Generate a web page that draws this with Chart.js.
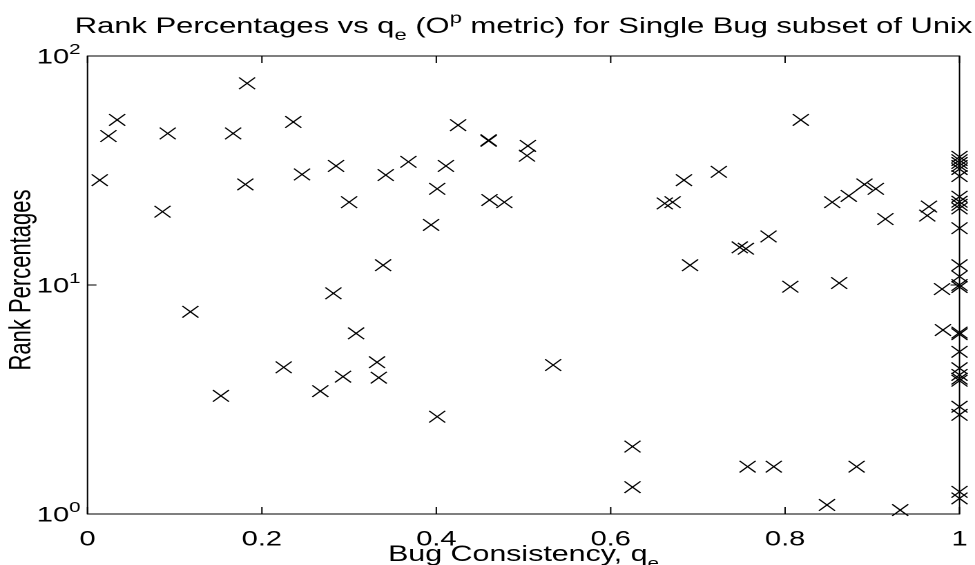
<!DOCTYPE html>
<html>
<head>
<meta charset="utf-8">
<script src="https://cdn.jsdelivr.net/npm/chart.js@4"></script>
<style>
  html, body { margin: 0; padding: 0; background: #fff; overflow: hidden; }
</style>
</head>
<body>
<!-- The figure is laid out on a 706-unit-wide grid and shown 975px wide,
     so the plot, its text and its markers are all stretched horizontally. -->
<canvas id="plot" width="706" height="565" style="display:block;width:975px;height:565px"></canvas>
<script>
// Bug consistency q_e and rank percentage for each bug with q_e < 1
const bugConsistency = [
  0.014, 0.024, 0.034, 0.092, 0.086, 0.167, 0.183, 0.181, 0.236, 0.246,
  0.425, 0.460, 0.460, 0.505, 0.504, 0.285, 0.342, 0.368, 0.411, 0.401,
  0.300, 0.461, 0.478, 0.394, 0.339, 0.282, 0.818, 0.724, 0.684, 0.662,
  0.671, 0.691, 0.781, 0.748, 0.755, 0.806, 0.862, 0.854, 0.873, 0.891,
  0.904, 0.915, 0.965, 0.963, 0.980, 0.981, 0.118, 0.153, 0.225, 0.267,
  0.308, 0.332, 0.334, 0.293, 0.401, 0.534, 0.625, 0.625, 0.757, 0.787,
  0.882, 0.848, 0.932
];
const rankPercentage = [
  28.7, 44.7, 52.6, 45.9, 20.9, 45.9, 76.0, 27.5, 51.5, 30.4,
  49.9, 42.6, 42.9, 40.5, 36.7, 33.1, 30.2, 34.5, 33.1, 26.3,
  23.0, 23.5, 23.0, 18.3, 12.2, 9.2, 52.6, 31.2, 28.7, 22.7,
  23.0, 12.2, 16.3, 14.6, 14.4, 9.83, 10.2, 23.0, 24.5, 27.5,
  26.3, 19.4, 22.0, 20.1, 9.6, 6.36, 7.64, 3.28, 4.37, 3.44,
  6.15, 4.60, 3.94, 3.98, 2.66, 4.47, 1.97, 1.31, 1.61, 1.61,
  1.61, 1.095, 1.04
];
// Rank percentages of the bugs with q_e = 1
const fullyConsistentRanks = [
  36.3, 35.1, 34.1, 33.1, 32.1, 29.9, 24.3, 23.1, 22.4, 21.6,
  17.7, 12.2, 10.9, 10.0, 9.8, 6.2, 6.1, 5.11, 4.33, 4.05,
  3.9, 3.82, 2.94, 2.71, 1.25, 1.17
];

const xTickValues = [0, 0.2, 0.4, 0.6, 0.8, 1];
const xTickLabels = ['0', '0.2', '0.4', '0.6', '0.8', '1'];
const yTickValues = [1, 10, 100];
const yTickExponents = ['0', '1', '2'];

const FONT = '"Liberation Sans", Arial, Helvetica, sans-serif';
const TICK_SIZE = 21;
const LABEL_SIZE = 22;
const TITLE_SIZE = 22.4;

// Draws a run of text pieces, some of them sub- or superscripted.
function drawRich(ctx, parts, x, y, size, align) {
  const small = Math.round(size * 0.7);
  const fontFor = p => `${(p.sub || p.sup) ? small : size}px ${FONT}`;
  let total = 0;
  const widths = parts.map(p => {
    ctx.font = fontFor(p);
    const w = ctx.measureText(p.t).width;
    total += w;
    return w;
  });
  let cx = align === 'center' ? x - total / 2 : align === 'right' ? x - total : x;
  ctx.textAlign = 'left';
  ctx.textBaseline = 'alphabetic';
  parts.forEach((p, i) => {
    ctx.font = fontFor(p);
    const dy = p.sub ? size * 0.32 : p.sup ? -size * 0.45 : 0;
    ctx.fillText(p.t, cx, y + dy);
    cx += widths[i];
  });
}

const framePlugin = {
  id: 'frame',
  beforeDraw(chart) {
    const { ctx, width, height } = chart;
    ctx.save();
    ctx.fillStyle = '#fff';
    ctx.fillRect(0, 0, width, height);
    ctx.restore();
  },
  afterDraw(chart) {
    const { ctx, chartArea: a, scales: { x, y } } = chart;
    ctx.save();
    ctx.strokeStyle = '#000';
    ctx.fillStyle = '#000';
    ctx.lineWidth = 1;
    ctx.strokeRect(a.left, a.top, a.right - a.left, a.bottom - a.top);

    // inward tick marks on all four sides
    ctx.beginPath();
    xTickValues.forEach(v => {
      const px = x.getPixelForValue(v);
      ctx.moveTo(px, a.bottom); ctx.lineTo(px, a.bottom - 7);
      ctx.moveTo(px, a.top); ctx.lineTo(px, a.top + 7);
    });
    yTickValues.forEach(v => {
      const py = y.getPixelForValue(v);
      ctx.moveTo(a.left, py); ctx.lineTo(a.left + 6.5, py);
      ctx.moveTo(a.right, py); ctx.lineTo(a.right - 6.5, py);
    });
    ctx.stroke();

    // powers-of-ten labels on the log axis
    yTickValues.forEach((v, i) => {
      const py = y.getPixelForValue(v);
      drawRich(ctx, [{ t: '10' }, { t: yTickExponents[i], sup: true }],
               a.left - 5, py + TICK_SIZE * 0.36, TICK_SIZE, 'right');
    });

    const midX = (a.left + a.right) / 2;
    drawRich(ctx, [
      { t: 'Rank Percentages vs q' }, { t: 'e', sub: true },
      { t: ' (O' }, { t: 'p', sup: true },
      { t: ' metric) for Single Bug subset of Unix' }
    ], midX, 33, TITLE_SIZE, 'center');

    drawRich(ctx, [{ t: 'Bug Consistency, q' }, { t: 'e', sub: true }],
             midX, 561, LABEL_SIZE, 'center');

    ctx.save();
    ctx.translate(16, (a.top + a.bottom) / 2 - 5);
    ctx.rotate(-Math.PI / 2);
    ctx.font = `${LABEL_SIZE}px ${FONT}`;
    ctx.textAlign = 'center';
    ctx.textBaseline = 'middle';
    ctx.fillText('Rank Percentages', 0, 0);
    ctx.restore();

    ctx.restore();
  }
};

const points = bugConsistency.map((q, i) => ({ x: q, y: rankPercentage[i] }))
  .concat(fullyConsistentRanks.map(r => ({ x: 1, y: r })));

new Chart(document.getElementById('plot'), {
  type: 'scatter',
  data: {
    datasets: [{
      data: points,
      pointStyle: 'crossRot',
      pointRadius: 8.2,
      pointBorderWidth: 1.1,
      pointBorderColor: '#000',
      pointBackgroundColor: 'rgba(0,0,0,0)',
      clip: false
    }]
  },
  options: {
    responsive: false,
    devicePixelRatio: 2,
    animation: false,
    events: [],
    layout: { padding: { top: 56, right: 11.22, left: 0, bottom: 0 } },
    plugins: {
      legend: { display: false },
      tooltip: { enabled: false },
      title: { display: false }
    },
    scales: {
      x: {
        type: 'linear',
        min: 0,
        max: 1,
        grid: { display: false },
        border: { display: false },
        afterBuildTicks: s => { s.ticks = xTickValues.map(v => ({ value: v })); },
        afterFit: s => { s.height = 51; },
        ticks: {
          callback: (v, i) => xTickLabels[i],
          color: '#000',
          font: { family: FONT, size: TICK_SIZE },
          padding: 5,
          maxRotation: 0,
          autoSkip: false
        }
      },
      y: {
        type: 'logarithmic',
        min: 1,
        max: 100,
        grid: { display: false },
        border: { display: false },
        ticks: { display: false },
        afterBuildTicks: s => { s.ticks = yTickValues.map(v => ({ value: v })); },
        afterFit: s => { s.width = 63.36; }
      }
    }
  },
  plugins: [framePlugin]
});
</script>
</body>
</html>
